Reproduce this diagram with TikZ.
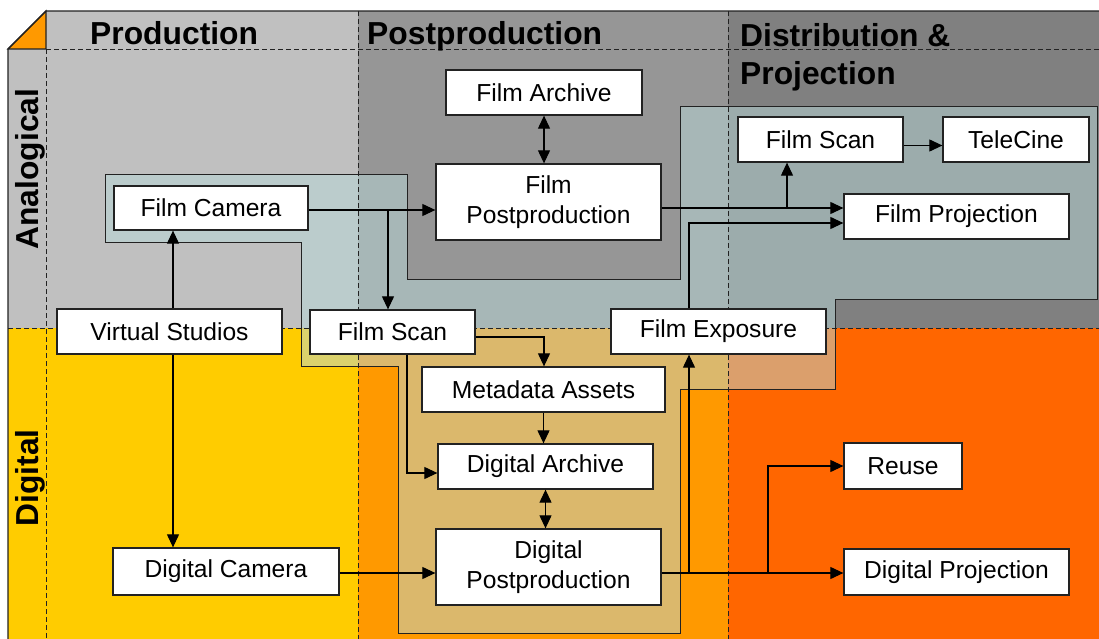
\documentclass[tikz,border=0pt]{standalone}
\usepackage{fontspec}
\setmainfont{Liberation Sans}
\usetikzlibrary{arrows.meta,calc}

\definecolor{prodgray}{HTML}{C0C0C0}
\definecolor{postgray}{HTML}{969696}
\definecolor{distgray}{HTML}{808080}
\definecolor{prodyel}{HTML}{FFCC00}
\definecolor{postorg}{HTML}{FF9900}
\definecolor{distorg}{HTML}{FF6600}
\definecolor{hatchcol}{HTML}{B8D8D8}
\definecolor{edge}{HTML}{222222}

\begin{document}
\begin{tikzpicture}[x=1pt,y=-1pt,
  box/.style={draw=edge, line width=1.3pt, fill=white, inner sep=0pt,
    align=center, font=\fontsize{24.6}{30}\selectfont},
  flow/.style={draw=black, line width=1.1pt, -{Triangle[length=13pt,width=12pt]}},
  both/.style={flow, {Triangle[length=13pt,width=12pt]}-{Triangle[length=13pt,width=12pt]}},
  grid/.style={draw=edge, line width=0.9pt, dash pattern=on 5pt off 3pt},
  head/.style={font=\fontsize{31.8}{38}\selectfont\bfseries, inner sep=0pt, anchor=base west},
  side/.style={font=\fontsize{31.8}{38}\selectfont\bfseries, inner sep=0pt, rotate=90},
]
\useasboundingbox (0,0) rectangle (1099,639);

% cells of the matrix: columns (phases) x rows (analog / digital)
\fill[prodgray] (46,11) rectangle (358,328);
\fill[postgray] (358,11) rectangle (728,328);
\fill[distgray] (728,11) rectangle (1099,328);
\fill[prodgray] (8,49) rectangle (46,328);
\fill[prodyel] (8,328) rectangle (358,639);
\fill[postorg] (358,328) rectangle (728,639);
\fill[distorg] (728,328) rectangle (1099,639);

% shaded band of the film-based workflow
\filldraw[fill=hatchcol, fill opacity=0.5, draw=edge, line width=1pt]
  (105,175) -- (407,175) -- (407,279) -- (680,279) -- (680,107) -- (1097,107)
  -- (1097,299) -- (835,299) -- (835,389) -- (680,389) -- (680,633)
  -- (398,633) -- (398,366) -- (301,366) -- (301,242) -- (105,242) -- cycle;

% corner and outline
\filldraw[fill=postorg, draw=edge, line width=1.2pt] (8,49) -- (46,11) -- (46,49) -- cycle;
\draw[edge, line width=1.2pt] (8,639) -- (8,49) -- (46,11) -- (1099,11);

% dashed separators
\draw[grid] (46,49) -- (1099,49);
\draw[grid] (8,328) -- (1099,328);
\draw[grid] (46,49) -- (46,639);
\draw[grid] (358,11) -- (358,639);
\draw[grid] (728,11) -- (728,639);

% headings
\node[head] (hprod) at (90,45) {Production};
\node[head] (hpost) at (367,45) {Postproduction};
\node[head, align=left, anchor=north west] (hdist) at (740,23) {Distribution \&\\Projection};
\node[side] (ranalog) at (30,169) {Analogical};
\node[side] (rdigital) at (30,478) {Digital};

% process boxes
\node[box, minimum width=196pt, minimum height=45pt] (farch)  at (544,92.5)   {Film Archive};
\node[box, minimum width=225pt, minimum height=76pt] (fpost)  at (548.5,202)  {Film\\Postproduction};
\node[box, minimum width=194pt, minimum height=44pt] (fcam)   at (211,208)    {Film Camera};
\node[box, minimum width=225pt, minimum height=45pt] (vstud)  at (169.5,331.5){Virtual Studios};
\node[box, minimum width=165pt, minimum height=44pt] (fscan1) at (392.5,332)  {Film Scan};
\node[box, minimum width=215pt, minimum height=45pt] (fexp)   at (718.5,331.5){Film Exposure};
\node[box, minimum width=243pt, minimum height=45pt] (meta)   at (543.5,389.5){Metadata Assets};
\node[box, minimum width=215pt, minimum height=45pt] (darch)  at (545.5,466.5){Digital Archive};
\node[box, minimum width=225pt, minimum height=76pt] (dpost)  at (548.5,567)  {Digital\\Postproduction};
\node[box, minimum width=226pt, minimum height=47pt] (dcam)   at (226,571.5)  {Digital Camera};
\node[box, minimum width=165pt, minimum height=45pt] (fscan2) at (820.5,139.5){Film Scan};
\node[box, minimum width=146pt, minimum height=45pt] (tele)   at (1016,139.5) {TeleCine};
\node[box, minimum width=225pt, minimum height=45pt] (fproj)  at (956.5,216.5){Film Projection};
\node[box, minimum width=118pt, minimum height=46pt] (reuse)  at (903,466)    {Reuse};
\node[box, minimum width=225pt, minimum height=46pt] (dproj)  at (956.5,572)  {Digital Projection};

% branch points
\coordinate (jscan) at (388,210);
\coordinate (vx) at (173,0);
\coordinate (yfp) at (0,208);
\coordinate (jfs) at (787,208);
\coordinate (jfe) at (689,223);
\coordinate (jmeta) at (544,337);
\coordinate (jda) at (407,473);
\coordinate (ydp) at (0,573);
\coordinate (jre) at (768,573);
\coordinate (jfx) at (689,573);

% analog flow
\draw[flow] (fcam.east |- jscan) -- (fpost.west |- jscan);
\draw[flow] (jscan) -- (jscan |- fscan1.north);
\draw[flow] (vstud.north -| vx) -- (fcam.south -| vx);
\draw[both] (farch.south) -- (farch.south |- fpost.north);
\draw[flow] (fpost.east |- yfp) -- (fproj.west |- yfp);
\draw[flow] (jfs) -- (jfs |- fscan2.south);
\draw[flow] ($(fscan2.east)+(0,6)$) -- ($(tele.west)+(0,6)$);
\draw[flow] (fexp.north -| jfe) -- (jfe) -- (fproj.west |- jfe);

% digital flow
\draw[flow] (vstud.south -| vx) -- (dcam.north -| vx);
\draw[flow] (fscan1.east |- jmeta) -- (jmeta) -- (jmeta |- meta.north);
\draw[flow] (fscan1.south -| jda) -- (jda) -- (darch.west |- jda);
\draw[flow] (meta.south) -- (meta.south |- darch.north);
\draw[both] (darch.south) -- (darch.south |- dpost.north);
\draw[flow] (dcam.east |- ydp) -- (dpost.west |- ydp);
\draw[flow] (dpost.east |- ydp) -- (dproj.west |- ydp);
\draw[flow] (jre) -- (jre |- reuse.west) -- (reuse.west);
\draw[flow] (jfx) -- (jfx |- fexp.south);
\end{tikzpicture}
\end{document}
